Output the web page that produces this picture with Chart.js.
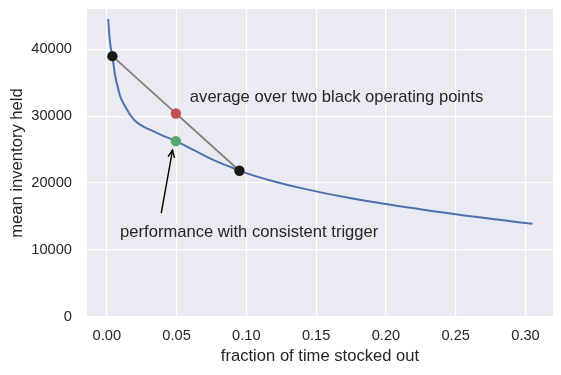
<!DOCTYPE html>
<html>
<head>
<meta charset="utf-8">
<script src="https://cdn.jsdelivr.net/npm/chart.js@4.4.0/dist/chart.umd.min.js"></script>
<style>
html,body{margin:0;padding:0;background:#ffffff;}
#wrap{width:561px;height:375px;}
</style>
</head>
<body>
<div id="wrap"><canvas id="c" width="561" height="375"></canvas></div>
<script>
// ---- data ----
const curveX = [0.001, 0.002, 0.003, 0.004, 0.005, 0.006, 0.008, 0.0095, 0.013, 0.0167, 0.020, 0.024, 0.030, 0.040, 0.0495, 0.062, 0.0766, 0.095, 0.102, 0.120, 0.140, 0.175, 0.200, 0.250, 0.300, 0.305];
const curveY = [44500, 41600, 40000, 38900, 37400, 36000, 34200, 33000, 31500, 30200, 29350, 28700, 28050, 27100, 26270, 24950, 23430, 21880, 21340, 20250, 19210, 17720, 16870, 15330, 14050, 13930];
const blackX = [0.004, 0.095];
const blackY = [38960, 21840];
const redX = [0.0495];
const redY = [30400];
const greenX = [0.0495];
const greenY = [26270];
const xTicks = [0.00, 0.05, 0.10, 0.15, 0.20, 0.25, 0.30];
const yTicks = [0, 10000, 20000, 30000, 40000];
const xTitle = 'fraction of time stocked out';
const yTitle = 'mean inventory held';
const noteAvg = {text: 'average over two black operating points', x: 0.0595, y: 32150};
const notePerf = {text: 'performance with consistent trigger', x: 0.0095, y: 12000, tailX: 0.039, tailY: 15500, headX: 0.0471, headY: 24930};

const FONT = '"Liberation Sans", Arial, sans-serif';
const TXT = '#262626';

function pts(xs, ys){ return xs.map((x,i)=>({x:x, y:ys[i]})); }

const bgPlugin = {
  id: 'bg',
  beforeDraw(chart){
    const {ctx, chartArea:a} = chart;
    ctx.save();
    ctx.fillStyle = '#EAEAF2';
    ctx.fillRect(a.left, a.top, a.right-a.left, a.bottom-a.top);
    ctx.restore();
  }
};

const notesPlugin = {
  id: 'notes',
  afterDatasetsDraw(chart){
    const {ctx, scales:{x, y}} = chart;
    ctx.save();
    ctx.font = '16.6px ' + FONT;
    ctx.fillStyle = TXT;
    ctx.textAlign = 'left';
    ctx.textBaseline = 'alphabetic';
    ctx.fillText(noteAvg.text, x.getPixelForValue(noteAvg.x), y.getPixelForValue(noteAvg.y));
    ctx.fillText(notePerf.text, x.getPixelForValue(notePerf.x), y.getPixelForValue(notePerf.y));
    // arrow
    const x0 = x.getPixelForValue(notePerf.tailX), y0 = y.getPixelForValue(notePerf.tailY);
    const x1 = x.getPixelForValue(notePerf.headX), y1 = y.getPixelForValue(notePerf.headY);
    ctx.strokeStyle = '#000000';
    ctx.lineWidth = 1.4;
    ctx.beginPath();
    ctx.moveTo(x0, y0); ctx.lineTo(x1, y1); ctx.stroke();
    const ang = Math.atan2(y1-y0, x1-x0);
    const L = 8, w = 0.42;
    ctx.beginPath();
    ctx.moveTo(x1 - L*Math.cos(ang-w), y1 - L*Math.sin(ang-w));
    ctx.lineTo(x1, y1);
    ctx.lineTo(x1 - L*Math.cos(ang+w), y1 - L*Math.sin(ang+w));
    ctx.stroke();
    ctx.restore();
  }
};

new Chart(document.getElementById('c'), {
  type: 'scatter',
  data: {
    datasets: [
      {data: pts(greenX, greenY), pointRadius: 5.2, pointBackgroundColor: '#55A868', pointBorderColor: '#55A868', pointBorderWidth: 0, showLine: false, order: 1},
      {data: pts(redX, redY), pointRadius: 5.2, pointBackgroundColor: '#C44E52', pointBorderColor: '#C44E52', pointBorderWidth: 0, showLine: false, order: 2},
      {data: pts(blackX, blackY), pointRadius: 5.2, pointBackgroundColor: '#1a1a1a', pointBorderColor: '#1a1a1a', pointBorderWidth: 0, showLine: false, order: 3},
      {data: pts(blackX, blackY), showLine: true, borderColor: '#808080', borderWidth: 1.8, pointRadius: 0, order: 4},
      {data: pts(curveX, curveY), showLine: true, borderColor: '#4C72B0', borderWidth: 2, pointRadius: 0, cubicInterpolationMode: 'monotone', order: 5}
    ]
  },
  options: {
    responsive: false,
    animation: false,
    devicePixelRatio: 1,
    layout: {padding: {top: 9, right: 8, bottom: 0, left: 0}},
    plugins: {legend: {display: false}, tooltip: {enabled: false}},
    scales: {
      x: {
        type: 'linear', min: -0.0142, max: 0.3197,
        afterBuildTicks(s){ s.ticks = xTicks.map(v=>({value:v})); },
        afterFit(s){ s.height = 58; s.paddingLeft = 0; s.paddingRight = 0; },
        grid: {color: '#ffffff', lineWidth: 1.2, drawTicks: false},
        border: {display: false},
        ticks: {color: TXT, font: {family: FONT, size: 14.67}, padding: 10, maxRotation: 0,
                callback: v => v.toFixed(2)},
        title: {display: true, text: xTitle, color: TXT, font: {family: FONT, size: 16.6}, padding: {top: 2, bottom: 9}}
      },
      y: {
        type: 'linear', min: 0, max: 46000,
        afterBuildTicks(s){ s.ticks = yTicks.map(v=>({value:v})); },
        afterFit(s){ s.width = 87; s.paddingTop = 0; s.paddingBottom = 0; },
        grid: {color: '#ffffff', lineWidth: 1.2, drawTicks: false},
        border: {display: false},
        ticks: {color: TXT, font: {family: FONT, size: 14.67}, padding: 15, callback: v => String(v)},
        title: {display: true, text: yTitle, color: TXT, font: {family: FONT, size: 16.6}, padding: {top: 7, bottom: 0}}
      }
    }
  },
  plugins: [bgPlugin, notesPlugin]
});
</script>
</body>
</html>
